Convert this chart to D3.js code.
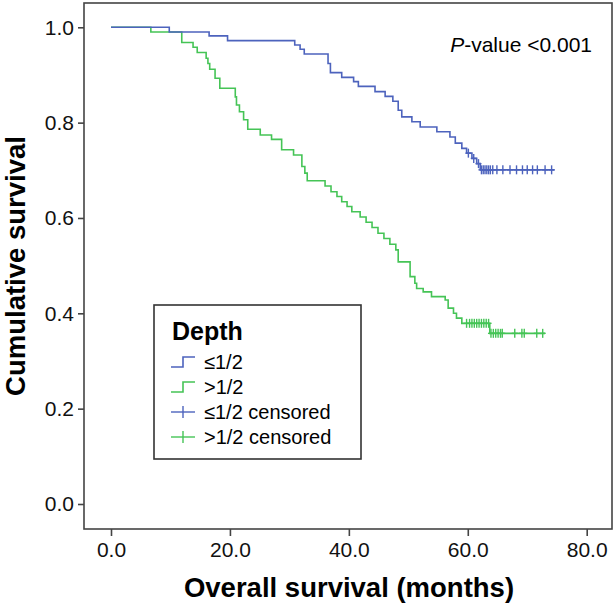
<!DOCTYPE html>
<html><head><meta charset="utf-8">
<script src="https://cdn.jsdelivr.net/npm/d3@7/dist/d3.min.js"></script>
<style>body{margin:0;background:#fff}svg{display:block}text{font-family:"Liberation Sans",Arial,sans-serif}</style>
</head><body>
<script>
// ---- data ----
const groupNames = ["≤1/2", ">1/2"];
const blueTimes = [0, 9.8, 16.5, 19.6, 30.9, 31.8, 32.5, 36.5, 36.9, 38.8, 40.8, 41.6, 44.4, 46.1, 47.4, 48.3, 48.9, 50.6, 52.0, 54.8, 57.0, 57.9, 59.0, 59.8, 60.7, 61.5, 62.1];
const blueSurv  = [1.0, 0.990, 0.982, 0.972, 0.963, 0.954, 0.944, 0.924, 0.905, 0.895, 0.886, 0.876, 0.865, 0.855, 0.845, 0.826, 0.812, 0.802, 0.791, 0.781, 0.770, 0.757, 0.746, 0.736, 0.725, 0.714, 0.701];
const blueCensored = [60.1, 61.0, 61.8, 62.3, 62.6, 62.9, 63.2, 63.5, 63.8, 64.2, 64.9, 65.9, 67.1, 68.2, 69.2, 70.0, 70.9, 71.7, 73.0, 74.1];
const blueEnd = 74.6;
const greenTimes = [0, 6.7, 11.9, 13.8, 14.5, 16.0, 16.3, 16.6, 17.5, 18.3, 20.9, 21.1, 21.6, 22.3, 23.0, 25.1, 27.0, 28.7, 30.7, 32.1, 32.6, 33.0, 36.0, 37.0, 38.0, 38.8, 39.7, 40.5, 41.9, 42.9, 43.9, 44.9, 45.9, 46.9, 47.9, 48.3, 50.3, 51.1, 51.4, 52.5, 53.9, 56.2, 56.7, 57.6, 58.1, 59.0, 63.7];
const greenSurv  = [1.0, 0.990, 0.968, 0.958, 0.947, 0.935, 0.924, 0.912, 0.893, 0.872, 0.854, 0.837, 0.823, 0.806, 0.786, 0.774, 0.765, 0.743, 0.732, 0.708, 0.694, 0.678, 0.667, 0.655, 0.645, 0.634, 0.624, 0.613, 0.602, 0.591, 0.580, 0.568, 0.557, 0.545, 0.533, 0.508, 0.477, 0.463, 0.452, 0.445, 0.435, 0.428, 0.411, 0.400, 0.390, 0.379, 0.358];
const greenCensored = [59.8, 60.3, 60.7, 61.1, 61.5, 61.9, 62.3, 62.7, 63.1, 63.5, 63.9, 64.3, 64.7, 65.1, 65.5, 65.8, 67.9, 69.1, 69.5, 71.6, 72.6];
const greenEnd = 73.0;
const xTicks = [0, 20, 40, 60, 80];
const yTicks = [0, 0.2, 0.4, 0.6, 0.8, 1.0];
const legendLabels = ["≤1/2", ">1/2", "≤1/2 censored", ">1/2 censored"];

const BLUE = "#4d63bd", GREEN = "#45c456";
const W = 615, H = 607;
const svg = d3.select("body").append("svg").attr("width", W).attr("height", H);

const x = d3.scaleLinear().domain([0, 80]).range([111, 586.7]);
const y = d3.scaleLinear().domain([0, 1]).range([504, 27.3]);

// frame
svg.append("rect").attr("x", 84).attr("y", 3).attr("width", 612 - 84).attr("height", 529 - 3)
  .attr("fill", "none").attr("stroke", "#444").attr("stroke-width", 1.6);

// axes
const yAx = svg.append("g").attr("transform", "translate(84,0)")
  .call(d3.axisLeft(y).tickValues(yTicks).tickFormat(d3.format(".1f")).tickSize(6).tickPadding(4));
const xAx = svg.append("g").attr("transform", "translate(0,529)")
  .call(d3.axisBottom(x).tickValues(xTicks).tickFormat(d3.format(".1f")).tickSize(7).tickPadding(6));
[yAx, xAx].forEach(g => {
  g.select(".domain").remove();
  g.selectAll("line").attr("stroke", "#444").attr("stroke-width", 1.6);
  g.selectAll("text").attr("font-size", 21).attr("fill", "#111")
    .attr("font-family", '"Liberation Sans",Arial,sans-serif');
});

// axis titles
svg.append("text").attr("x", 349).attr("y", 597).attr("text-anchor", "middle")
  .attr("font-size", 27.5).attr("font-weight", "bold").text("Overall survival (months)");
svg.append("text").attr("transform", "translate(25,266) rotate(-90)").attr("text-anchor", "middle")
  .attr("font-size", 27.5).attr("font-weight", "bold").text("Cumulative survival");

// p-value
const pt = svg.append("text").attr("x", 592).attr("y", 52).attr("text-anchor", "end").attr("font-size", 21);
pt.append("tspan").attr("font-style", "italic").text("P");
pt.append("tspan").text("-value <0.001");

// curves
function stepFn(times, surv) {
  return t => { let v = surv[0]; for (let i = 0; i < times.length; i++) if (times[i] <= t) v = surv[i]; return v; };
}
const groups = [
  {times: blueTimes, surv: blueSurv, cens: blueCensored, end: blueEnd, color: BLUE},
  {times: greenTimes, surv: greenSurv, cens: greenCensored, end: greenEnd, color: GREEN}
];
const line = d3.line().x(d => x(d[0])).y(d => y(d[1])).curve(d3.curveStepAfter);
groups.slice().reverse().forEach(g => {
  const pts = g.times.map((t, i) => [t, g.surv[i]]);
  pts.push([g.end, g.surv[g.surv.length - 1]]);
  svg.append("path").datum(pts).attr("d", line).attr("fill", "none")
    .attr("stroke", g.color).attr("stroke-width", 1.6);
  const f = stepFn(g.times, g.surv);
  const cg = svg.append("g").attr("stroke", g.color).attr("stroke-width", 1.4);
  g.cens.forEach(t => {
    const cx = x(t), cy = y(f(t));
    cg.append("line").attr("x1", cx).attr("x2", cx).attr("y1", cy - 4.5).attr("y2", cy + 4.5);
    cg.append("line").attr("x1", cx - 3).attr("x2", cx + 3).attr("y1", cy).attr("y2", cy);
  });
});

// legend
const lg = svg.append("g");
lg.append("rect").attr("x", 154).attr("y", 305).attr("width", 207).attr("height", 154)
  .attr("fill", "#fff").attr("stroke", "#333").attr("stroke-width", 1.6);
lg.append("text").attr("x", 172).attr("y", 340).attr("font-size", 25).attr("font-weight", "bold").text("Depth");
const colors = [BLUE, GREEN, BLUE, GREEN];
legendLabels.forEach((lab, i) => {
  const cy = 362 + i * 25;
  if (i < 2) {
    lg.append("path").attr("d", `M171,${cy + 5}H183V${cy - 5}H195`).attr("fill", "none")
      .attr("stroke", colors[i]).attr("stroke-width", 1.6);
  } else {
    lg.append("line").attr("x1", 171).attr("x2", 195).attr("y1", cy).attr("y2", cy).attr("stroke", colors[i]).attr("stroke-width", 1.4);
    lg.append("line").attr("x1", 183).attr("x2", 183).attr("y1", cy - 6).attr("y2", cy + 6).attr("stroke", colors[i]).attr("stroke-width", 1.4);
  }
  lg.append("text").attr("x", 204).attr("y", cy + 7).attr("font-size", 20).text(lab);
});
</script>
</body></html>
